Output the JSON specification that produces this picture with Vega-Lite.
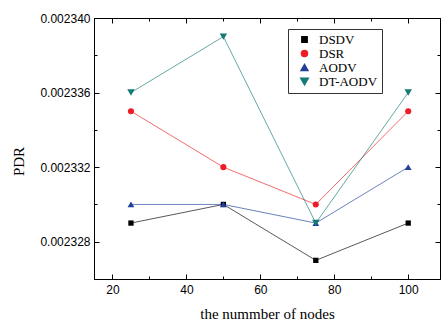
{
  "$schema": "https://vega.github.io/schema/vega-lite/v6.json",
  "autosize": "none",
  "width": 346,
  "height": 261,
  "padding": {"left": 94, "top": 18, "right": 2, "bottom": 43},
  "background": "white",
  "config": {
    "view": {"stroke": "black", "strokeWidth": 1},
    "axis": {
      "domainColor": "black",
      "tickColor": "black",
      "grid": false,
      "labelFont": "Liberation Sans",
      "labelFontSize": 12,
      "labelColor": "black",
      "titleFont": "Liberation Serif",
      "titleFontSize": 15,
      "titleFontWeight": "normal",
      "titleColor": "black"
    },
    "legend": {
      "orient": "none",
      "legendX": 194,
      "legendY": 11,
      "strokeColor": "#333333",
      "fillColor": "white",
      "padding": 4,
      "labelFont": "Liberation Serif",
      "labelFontSize": 13,
      "labelColor": "black",
      "rowPadding": 0,
      "labelOffset": 8,
      "symbolOffset": 6
    }
  },
  "data": {
    "values": [
      {"series": "DSDV", "nodes": 25, "pdr": 0.002329},
      {"series": "DSDV", "nodes": 50, "pdr": 0.00233},
      {"series": "DSDV", "nodes": 75, "pdr": 0.002327},
      {"series": "DSDV", "nodes": 100, "pdr": 0.002329},
      {"series": "DSR", "nodes": 25, "pdr": 0.002335},
      {"series": "DSR", "nodes": 50, "pdr": 0.002332},
      {"series": "DSR", "nodes": 75, "pdr": 0.00233},
      {"series": "DSR", "nodes": 100, "pdr": 0.002335},
      {"series": "AODV", "nodes": 25, "pdr": 0.00233},
      {"series": "AODV", "nodes": 50, "pdr": 0.00233},
      {"series": "AODV", "nodes": 75, "pdr": 0.002329},
      {"series": "AODV", "nodes": 100, "pdr": 0.002332},
      {"series": "DT-AODV", "nodes": 25, "pdr": 0.002336},
      {"series": "DT-AODV", "nodes": 50, "pdr": 0.002339},
      {"series": "DT-AODV", "nodes": 75, "pdr": 0.002329},
      {"series": "DT-AODV", "nodes": 100, "pdr": 0.002336}
    ]
  },
  "resolve": {"axis": {"x": "independent", "y": "independent"}},
  "layer": [
    {
      "mark": {"type": "line", "strokeWidth": 1, "strokeOpacity": 0.65},
      "encoding": {
        "x": {
          "field": "nodes", "type": "quantitative",
          "scale": {"domain": [15, 108.6], "nice": false, "zero": false},
          "axis": {
            "orient": "bottom",
            "title": "the nummber of nodes",
            "values": [20, 30, 40, 50, 60, 70, 80, 90, 100],
            "labelExpr": "datum.value % 20 === 0 ? datum.label : ''",
            "tickSize": {"condition": {"test": "datum.value % 20 === 0", "value": -5}, "value": -3},
            "labelPadding": 10,
            "titleY": 34,
            "titleBaseline": "middle"
          }
        },
        "y": {
          "field": "pdr", "type": "quantitative",
          "scale": {"domain": [0.002326, 0.00234], "nice": false, "zero": false},
          "axis": {
            "orient": "left",
            "title": "PDR",
            "format": ".6f",
            "values": [0.002328, 0.00233, 0.002332, 0.002334, 0.002336, 0.002338, 0.00234],
            "labelExpr": "round(datum.value * 1e6) % 4 === 0 ? datum.label : ''",
            "tickSize": {"condition": {"test": "round(datum.value * 1e6) % 4 === 0", "value": -5}, "value": -3},
            "labelPadding": 9,
            "titleX": -76,
            "titleY": 143,
            "titleAngle": -90,
            "titleBaseline": "middle",
            "titleAnchor": "middle"
          }
        },
        "color": {
          "field": "series", "type": "nominal",
          "scale": {"domain": ["DSDV", "DSR", "AODV", "DT-AODV"], "range": ["#000000", "#ee1c24", "#1f3f9a", "#137a75"]},
          "legend": {"title": null, "labelFont": "Liberation Serif", "labelFontSize": 13}
        }
      }
    },
    {
      "mark": {"type": "point", "filled": true, "opacity": 1},
      "encoding": {
        "x": {
          "field": "nodes", "type": "quantitative",
          "scale": {"domain": [15, 108.6], "nice": false, "zero": false},
          "axis": {
            "orient": "top",
            "title": null,
            "values": [20, 30, 40, 50, 60, 70, 80, 90, 100],
            "labels": false,
            "tickSize": {"condition": {"test": "datum.value % 20 === 0", "value": -5}, "value": -3}
          }
        },
        "y": {
          "field": "pdr", "type": "quantitative",
          "scale": {"domain": [0.002326, 0.00234], "nice": false, "zero": false},
          "axis": {
            "orient": "right",
            "title": null,
            "values": [0.002328, 0.00233, 0.002332, 0.002334, 0.002336, 0.002338, 0.00234],
            "labels": false,
            "tickSize": {"condition": {"test": "round(datum.value * 1e6) % 4 === 0", "value": -5}, "value": -3}
          }
        },
        "color": {
          "field": "series", "type": "nominal",
          "scale": {"domain": ["DSDV", "DSR", "AODV", "DT-AODV"], "range": ["#000000", "#ee1c24", "#1f3f9a", "#137a75"]},
          "legend": {"title": null, "labelFont": "Liberation Serif", "labelFontSize": 13}
        },
        "shape": {
          "field": "series", "type": "nominal",
          "scale": {"domain": ["DSDV", "DSR", "AODV", "DT-AODV"], "range": ["square", "circle", "triangle-up", "triangle-down"]},
          "legend": {"title": null, "labelFont": "Liberation Serif", "labelFontSize": 13}
        },
        "size": {
          "field": "series", "type": "nominal",
          "scale": {"domain": ["DSDV", "DSR", "AODV", "DT-AODV"], "range": [28, 55, 60, 60]},
          "legend": {"title": null, "labelFont": "Liberation Serif", "labelFontSize": 13}
        }
      }
    }
  ]
}
